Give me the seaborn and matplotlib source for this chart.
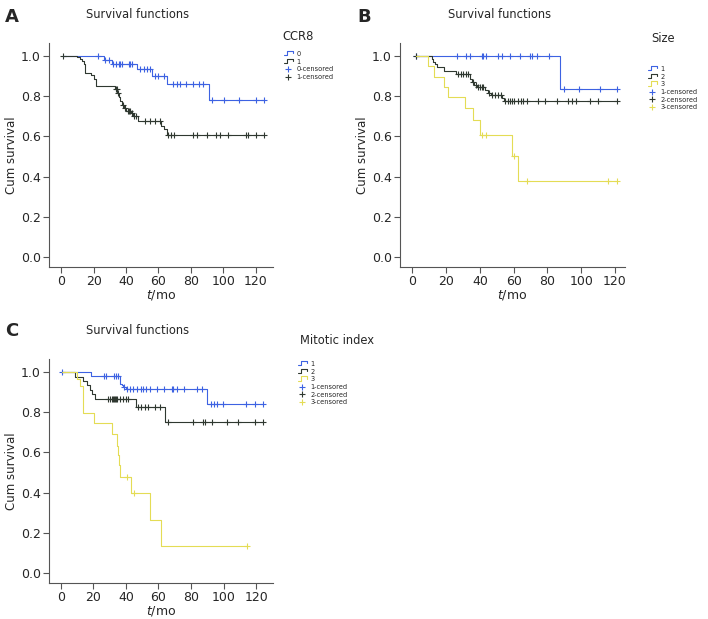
import numpy as np
import pandas as pd
import seaborn as sns
import matplotlib.pyplot as plt
from matplotlib.lines import Line2D
from matplotlib.legend_handler import HandlerBase

# ---------------- data (months / cumulative survival) ----------------
# panel A: CCR8
a0_t = [1, 26, 31, 47, 56, 65.5, 91, 125]
a0_s = [1.0, 0.979, 0.959, 0.934, 0.901, 0.862, 0.781, 0.781]
a0_cens = [22.5, 27.2, 29.3, 32, 34, 35.4, 36.5, 37.5, 41.6, 42.6, 43.6, 48.7, 50.8, 52.8, 54.5,
           58, 60, 63.1, 69.2, 71.3, 73.3, 77, 81.5, 85.2, 87.6, 92.8, 100.3, 109.6, 120.4, 125]
a1_t = [1, 9.8, 11.5, 12.9, 13.9, 14.5, 18.4, 20, 21.1, 32.8, 34.4, 35.4, 36.5, 37.5, 38.5, 40.1,
        43, 44.2, 47.3, 61.4, 63.5, 65.1, 125]
a1_s = [1.0, 0.995, 0.985, 0.975, 0.962, 0.918, 0.908, 0.888, 0.85, 0.835, 0.814, 0.797, 0.776,
        0.756, 0.74, 0.727, 0.715, 0.702, 0.679, 0.652, 0.636, 0.608, 0.608]
a1_cens = [1.2, 33.5, 34.2, 34.8, 38.1, 39.5, 40.9, 41.5, 42.6, 43.6, 45, 46.3, 51.8, 54.9, 58, 61,
           66.1, 67.8, 69.6, 81.5, 83.5, 89.7, 95.8, 97.9, 103, 114.3, 115.3, 120, 125]

# panel B: Size
b1_t = [2, 87.5, 121]
b1_s = [1.0, 0.837, 0.837]
b1_cens = [2, 26.6, 31.5, 34, 41, 41.6, 43.6, 51, 53, 57.8, 63.7, 69.6, 71, 74, 80.9, 89.7, 98.8, 111, 121]
b2_t = [2, 11.4, 12.4, 13.4, 14.4, 18.9, 25.6, 34.1, 35.1, 36.7, 38.1, 43, 45, 46.4, 53.3, 54.4, 121]
b2_s = [1.0, 0.984, 0.97, 0.958, 0.946, 0.924, 0.91, 0.886, 0.87, 0.858, 0.846, 0.83, 0.818, 0.805,
        0.79, 0.776, 0.776]
b2_cens = [2, 27.2, 28.8, 30.2, 31.8, 32.8, 36.1, 37.7, 39, 40, 41.4, 42, 45.5, 47.3, 48.9, 50.9, 52.5,
           54.8, 56.4, 57.8, 58.8, 60.4, 62.7, 64.3, 65.3, 67.6, 74.2, 78.5, 85.4, 91.9, 94.3, 96.6,
           105.1, 110, 121]
b3_t = [2, 9.4, 13, 18.5, 21, 31.3, 35.9, 39.8, 59, 62.7, 121]
b3_s = [1.0, 0.952, 0.897, 0.845, 0.795, 0.74, 0.682, 0.607, 0.505, 0.38, 0.38]
b3_cens = [41.4, 43.4, 60.4, 67.7, 115.6, 121]

# panel C: Mitotic index
c1_t = [0.6, 18.4, 36.5, 37.5, 38.5, 40.1, 89.7, 124]
c1_s = [1.0, 0.978, 0.942, 0.934, 0.925, 0.914, 0.842, 0.842]
c1_cens = [0.6, 26.6, 27.8, 32.8, 34, 35, 38.9, 41, 42.6, 44.2, 46.7, 49.3, 50.8, 52.4, 54.9, 59.4,
           63.5, 68.2, 69.2, 71.3, 76, 83.5, 86.6, 92.4, 94.2, 95.8, 99.5, 113.9, 119.4, 124.1]
c2_t = [0.6, 8.5, 13.5, 16, 18, 19.5, 21, 46.5, 64, 124]
c2_s = [1.0, 0.975, 0.955, 0.935, 0.91, 0.89, 0.865, 0.825, 0.75, 0.75]
c2_cens = [29.3, 30.3, 31.3, 31.9, 32.8, 33.4, 34, 34.8, 36.5, 38.5, 40.1, 41.6, 47.7, 49.3, 51.8,
           53.9, 57.9, 61, 66.1, 81.1, 87.6, 88.7, 92.8, 102, 109.2, 119.4, 124.1]
c3_t = [0.6, 10, 12, 13.4, 20.7, 31.3, 34.5, 35, 35.5, 36.2, 43, 55, 61.5, 114.7]
c3_s = [1.0, 0.965, 0.93, 0.795, 0.745, 0.69, 0.63, 0.585, 0.535, 0.478, 0.40, 0.265, 0.133, 0.133]
c3_cens = [41, 45, 114.7]

BLUE = '#3d62e2'
DARK = '#2f3830'
YELLOW = '#e4dc55'

W, H = 708, 619


class StepHandler(HandlerBase):
    def create_artists(self, legend, orig_handle, xd, yd, width, height, fontsize, trans):
        x = [0, 0.4 * width, 0.4 * width, width, width]
        y = [0.1 * height, 0.1 * height, 0.95 * height, 0.95 * height, 0.55 * height]
        ln = Line2D(x, y, color=orig_handle.get_color(), lw=0.8, transform=trans)
        return [ln]


def km_panel(ax, curves, xlim):
    for t, s, cens, col in curves:
        sns.lineplot(x=t, y=s, drawstyle='steps-post', color=col, linewidth=0.8,
                     sort=False, estimator=None, ax=ax, legend=False)
        idx = np.searchsorted(t, cens, side='right') - 1
        cy = np.asarray(s)[np.clip(idx, 0, len(s) - 1)]
        sns.scatterplot(x=cens, y=cy, marker='+', s=16, color=col, linewidth=0.8, ax=ax, legend=False)
    ax.set_xlim(*xlim)
    ax.set_ylim(-0.05, 1.065)
    ax.set_xticks(range(0, 121, 20))
    ax.set_yticks(np.arange(0, 1.01, 0.2))
    ax.set_yticklabels(['%.1f' % v for v in np.arange(0, 1.01, 0.2)])
    ax.tick_params(labelsize=9, length=4, width=0.8, color='#555555', pad=2)
    ax.set_xlabel(r'$t$/mo', fontsize=9)
    ax.set_ylabel('Cum survival', fontsize=8.5)
    ax.xaxis.set_label_coords(0.5, -0.092)
    ax.yaxis.set_label_coords(-0.14, 0.5)
    sns.despine(ax=ax)
    for sp in ['left', 'bottom']:
        ax.spines[sp].set_color('#555555')
        ax.spines[sp].set_linewidth(0.8)


def ftext(x, y, s, **kw):
    fig.text(x / W, 1 - y / H, s, **kw)


def add_legend(x, y, labels, colors):
    handles = [Line2D([], [], color=c) for c in colors]
    hmap = {h: StepHandler() for h in handles}
    handles += [Line2D([], [], color=c, marker='+', ls='none', markersize=5, mew=0.8) for c in colors]
    fig.legend(handles, labels, loc='upper left', bbox_to_anchor=(x / W, 1 - y / H),
               frameon=False, fontsize=4.8, handlelength=1.3, handleheight=0.8, handletextpad=0.6,
               labelspacing=0.25, borderpad=0, borderaxespad=0, handler_map=hmap)


sns.set_style('ticks')
plt.rcParams['font.family'] = ['DejaVu Sans']
fig = plt.figure(figsize=(W / 100, H / 100), dpi=100)

axA = fig.add_axes([49 / W, 1 - 267 / H, 224 / W, 224 / H])
axB = fig.add_axes([400 / W, 1 - 267 / H, 225 / W, 224 / H])
axC = fig.add_axes([49 / W, 1 - 583 / H, 224 / W, 224 / H])

km_panel(axA, [(a0_t, a0_s, a0_cens, BLUE), (a1_t, a1_s, a1_cens, DARK)], (-7.7, 130.8))
km_panel(axB, [(b1_t, b1_s, b1_cens, BLUE), (b2_t, b2_s, b2_cens, DARK),
               (b3_t, b3_s, b3_cens, YELLOW)], (-7.3, 125.9))
km_panel(axC, [(c1_t, c1_s, c1_cens, BLUE), (c2_t, c2_s, c2_cens, DARK),
               (c3_t, c3_s, c3_cens, YELLOW)], (-7.2, 130.4))

for x, y, letter in [(12, 17, 'A'), (364, 17, 'B'), (12, 331, 'C')]:
    ftext(x, y, letter, fontsize=13, fontweight='bold', ha='center', va='center')
for x, y in [(138, 15), (500, 15), (138, 330)]:
    ftext(x, y, 'Survival functions', fontsize=8.3, ha='center', va='center')

ftext(298, 36, 'CCR8', fontsize=8.3, ha='center', va='center')
ftext(663, 38, 'Size', fontsize=8.3, ha='center', va='center')
ftext(337, 341, 'Mitotic index', fontsize=8.3, ha='center', va='center')

add_legend(284, 51, ['0', '1', '0-censored', '1-censored'], [BLUE, DARK])
add_legend(648, 66, ['1', '2', '3', '1-censored', '2-censored', '3-censored'], [BLUE, DARK, YELLOW])
add_legend(298, 361, ['1', '2', '3', '1-censored', '2-censored', '3-censored'], [BLUE, DARK, YELLOW])

fig.savefig('out.png', dpi=100)
